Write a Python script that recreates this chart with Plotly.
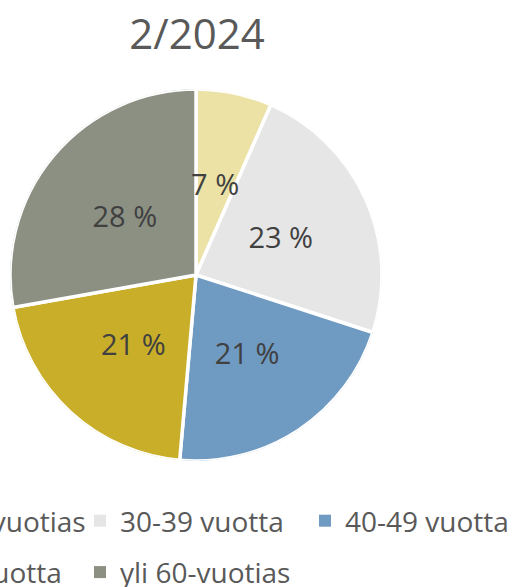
import numpy as np
import plotly.graph_objects as go

labels = ["alle 30-vuotias", "30-39 vuotta", "40-49 vuotta", "50-59 vuotta", "yli 60-vuotias"]
values = [6.6, 23.4, 21.4, 20.8, 27.8]          # shares in %, shown rounded
colors = ["#ECE2A6", "#E6E6E6", "#6F9AC2", "#C9AE2A", "#8B9083"]
legend_ids = ["legend", "legend2", "legend3", "legend", "legend2"]
title_text = "2/2024"

FONT = "Open Sans"
TXT = "#595959"

vals = np.array(values, dtype=float)
span = vals / vals.sum() * 360.0                 # slice widths in degrees
mid_theta = np.cumsum(span) - span / 2           # slice centres in degrees

fig = go.Figure()
# slices of the pie, drawn on a polar axis (0 deg at 12 o'clock, clockwise)
fig.add_trace(go.Barpolar(
    r=[1] * len(values), theta=mid_theta, width=span,
    marker=dict(color=colors, line=dict(color="white", width=3.5)),
    customdata=labels, hovertemplate="%{customdata}<extra></extra>",
    showlegend=False, subplot="polar",
))
# data labels in the middle of each slice
fig.add_trace(go.Scatterpolar(
    r=[0.51] * len(values), theta=mid_theta, mode="text",
    text=[f"{round(v)} %" for v in values], textposition="middle center",
    textfont=dict(family=FONT, size=29, color="#404040"),
    showlegend=False, hoverinfo="skip", subplot="polar2",
))

for lab, col, lg in zip(labels, colors, legend_ids):
    fig.add_trace(go.Scatter(
        x=[None], y=[None], mode="markers", name=lab, legend=lg, legendgroup=lab,
        marker=dict(symbol="square", size=12, color=col),
    ))

leg_common = dict(
    orientation="v", xref="paper", yref="container", xanchor="left", yanchor="top",
    font=dict(family=FONT, size=28, color=TXT), bgcolor="rgba(0,0,0,0)",
    tracegroupgap=12, itemsizing="constant",
)

polar_axes = dict(
    bgcolor="rgba(0,0,0,0)",
    radialaxis=dict(range=[0, 1], visible=False, showgrid=False),
    angularaxis=dict(rotation=90, direction="clockwise", visible=False, showgrid=False),
)

def px_to_paper(px):
    return (px - 10) / 372.0

fig.update_layout(
    width=515, height=587,
    margin=dict(l=10, r=133, t=89, b=126, autoexpand=False),
    paper_bgcolor="white", plot_bgcolor="white",
    title=dict(text=title_text, x=197 / 515, xanchor="center", y=1 - 34 / 587, yanchor="middle",
               font=dict(family=FONT, size=42, color=TXT)),
    xaxis=dict(visible=False), yaxis=dict(visible=False),
    polar=dict(domain=dict(x=[0, 1], y=[0, 1]), **polar_axes),
    polar2=dict(domain=dict(x=[0, 1], y=[0, 1 - 8 / 372]), **polar_axes),
    legend=dict(x=px_to_paper(-142), y=1 - 496 / 587, **leg_common),
    legend2=dict(x=px_to_paper(80), y=1 - 496 / 587, **leg_common),
    legend3=dict(x=px_to_paper(305), y=1 - 496 / 587, **leg_common),
)

fig.write_html("out.html", config={"displayModeBar": False},
               post_script="document.body.style.margin='0';")
